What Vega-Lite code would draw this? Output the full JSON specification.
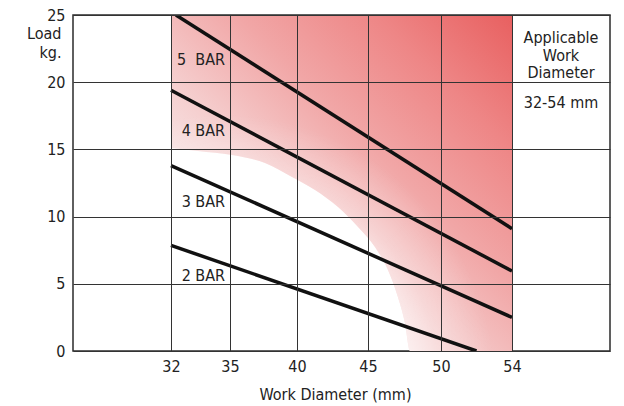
{
  "$schema": "https://vega.github.io/schema/vega-lite/v6.json",
  "width": 537,
  "height": 336,
  "autosize": {"type": "none"},
  "padding": {"left": 73, "top": 15, "right": 14, "bottom": 55},
  "background": "white",
  "config": {
    "view": {"stroke": "#2b2b2b", "strokeWidth": 1.5},
    "font": "Liberation Sans Narrow, DejaVu Sans Condensed, sans-serif"
  },
  "datasets": {
    "band": [
      {"x": 32, "y": 25, "b": 15.1},
      {"x": 33.37, "y": 25, "b": 14.88},
      {"x": 35.15, "y": 25, "b": 14.58},
      {"x": 37.61, "y": 25, "b": 13.99},
      {"x": 39.63, "y": 25, "b": 12.95},
      {"x": 41.27, "y": 25, "b": 11.98},
      {"x": 42.89, "y": 25, "b": 10.71},
      {"x": 44.3, "y": 25, "b": 9.23},
      {"x": 45.48, "y": 25, "b": 7.74},
      {"x": 46.37, "y": 25, "b": 6.03},
      {"x": 47.05, "y": 25, "b": 4.02},
      {"x": 47.53, "y": 25, "b": 2.08},
      {"x": 47.88, "y": 25, "b": 0},
      {"x": 54, "y": 25, "b": 0}
    ],
    "lines": [
      {"series": "5 BAR", "x": 32.25, "y": 25},
      {"series": "5 BAR", "x": 54, "y": 9.1},
      {"series": "4 BAR", "x": 32, "y": 19.4},
      {"series": "4 BAR", "x": 54, "y": 5.95},
      {"series": "3 BAR", "x": 32, "y": 13.8},
      {"series": "3 BAR", "x": 54, "y": 2.5},
      {"series": "2 BAR", "x": 32, "y": 7.86},
      {"series": "2 BAR", "x": 52, "y": 0}
    ],
    "barLabels": [
      {"x": 34.75, "y": 21.65, "t": "5\u00a0 BAR"},
      {"x": 34.75, "y": 16.37, "t": "4 BAR"},
      {"x": 34.75, "y": 11.11, "t": "3 BAR"},
      {"x": 34.75, "y": 5.6, "t": "2 BAR"}
    ],
    "colText": [
      {"x": 56.75, "y": 23.29, "t": "Applicable"},
      {"x": 56.75, "y": 21.95, "t": "Work"},
      {"x": 56.75, "y": 20.68, "t": "Diameter"},
      {"x": 56.75, "y": 18.45, "t": "32-54 mm"}
    ]
  },
  "encoding": {
    "x": {
      "field": "x",
      "type": "quantitative",
      "scale": {
        "domain": [27, 32, 35, 40, 45, 50, 54, 59.5],
        "range": [0, 98, 157, 224, 295, 368, 439, 537],
        "nice": false,
        "zero": false
      },
      "axis": {
        "values": [32, 35, 40, 45, 50, 54],
        "title": "Work Diameter (mm)",
        "grid": true,
        "gridColor": "#333333",
        "gridWidth": 1,
        "gridOpacity": 1,
        "ticks": false,
        "domain": false,
        "labelFlush": false,
        "labelFontSize": 16,
        "labelColor": "#222222",
        "labelPadding": 7,
        "titleFontSize": 16,
        "titleFontWeight": "normal",
        "titleColor": "#222222",
        "titlePadding": 12,
        "titleX": 262,
        "zindex": 1
      }
    },
    "y": {
      "field": "y",
      "type": "quantitative",
      "scale": {"domain": [0, 25], "nice": false, "zero": true},
      "axis": {
        "values": [0, 5, 10, 15, 20, 25],
        "grid": true,
        "gridColor": "#333333",
        "gridWidth": 1,
        "gridOpacity": 1,
        "ticks": false,
        "domain": false,
        "labelFlush": false,
        "labelFontSize": 16,
        "labelColor": "#222222",
        "labelPadding": 8,
        "title": ["Load", "kg."],
        "titleAngle": 0,
        "titleAlign": "right",
        "titleBaseline": "top",
        "titleX": -12,
        "titleY": 10,
        "titleLineHeight": 19,
        "titleFontSize": 16,
        "titleFontWeight": "normal",
        "titleColor": "#222222",
        "zindex": 1
      }
    }
  },
  "layer": [
    {
      "data": {"name": "band"},
      "mark": {
        "type": "area",
        "orient": "vertical",
        "interpolate": "monotone",
        "color": {
          "gradient": "linear",
          "x1": 1, "y1": 0, "x2": 0, "y2": 1,
          "stops": [
            {"offset": 0, "color": "#e86060"},
            {"offset": 0.2, "color": "#ee8686"},
            {"offset": 0.4, "color": "#f1a6a6"},
            {"offset": 0.5, "color": "#f3baba"},
            {"offset": 0.6, "color": "#f5cfcf"},
            {"offset": 0.7, "color": "#f7e0e0"},
            {"offset": 0.85, "color": "#fbf2f2"},
            {"offset": 1, "color": "#ffffff"}
          ]
        }
      },
      "encoding": {"y2": {"field": "b"}}
    },
    {
      "data": {"name": "band"},
      "mark": {
        "type": "area",
        "orient": "vertical",
        "interpolate": "monotone",
        "color": {
          "gradient": "radial",
          "x1": 0.15, "y1": 1.1, "r1": 0,
          "x2": 0.15, "y2": 1.1, "r2": 0.8,
          "stops": [
            {"offset": 0, "color": "rgba(255,255,255,1)"},
            {"offset": 0.6, "color": "rgba(255,255,255,0.85)"},
            {"offset": 0.8, "color": "rgba(255,255,255,0.3)"},
            {"offset": 1, "color": "rgba(255,255,255,0)"}
          ]
        }
      },
      "encoding": {"y2": {"field": "b"}}
    },
    {
      "data": {"name": "lines"},
      "mark": {"type": "line", "color": "#111111", "strokeWidth": 3.5, "clip": true},
      "encoding": {"detail": {"field": "series"}}
    },
    {
      "data": {"name": "barLabels"},
      "mark": {"type": "text", "align": "right", "baseline": "middle", "fontSize": 16, "color": "#222222"},
      "encoding": {"text": {"field": "t"}}
    },
    {
      "data": {"name": "colText"},
      "mark": {"type": "text", "align": "center", "baseline": "middle", "fontSize": 16, "color": "#222222"},
      "encoding": {"text": {"field": "t"}}
    }
  ]
}
